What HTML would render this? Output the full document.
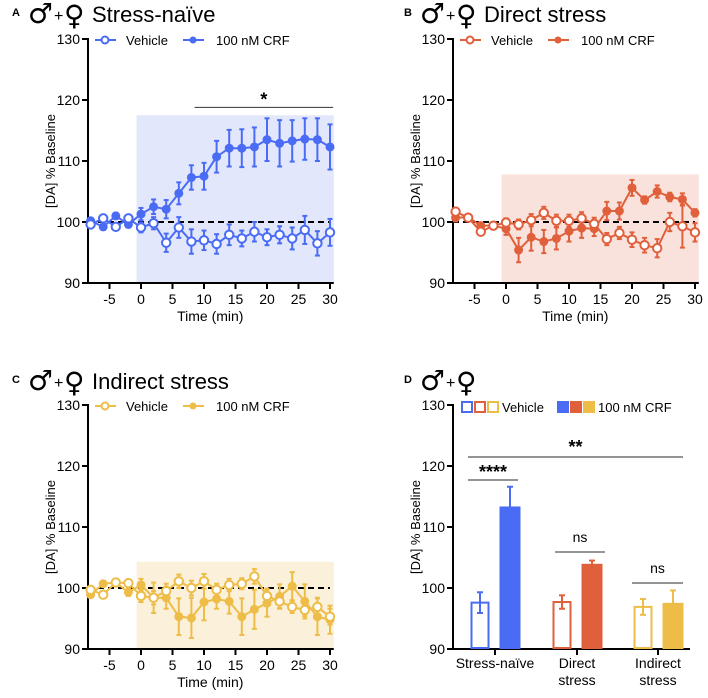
<!DOCTYPE html>
<html><head><meta charset="utf-8">
<style>
html,body{margin:0;padding:0;background:#fff;}
svg{display:block;font-family:"Liberation Sans",Arial,sans-serif;}
</style></head>
<body>
<svg id="fig" width="708" height="698" viewBox="0 0 708 698" xmlns="http://www.w3.org/2000/svg"></svg>
<script>
const times = [-8,-6,-4,-2,0,2,4,6,8,10,12,14,16,18,20,22,24,26,28,30];
const aCrf = [100.2,99.2,101,99.6,101.3,102.5,102.1,104.7,107.3,107.5,110.7,112.1,112.1,112.3,113.5,112.9,113.3,113.6,113.5,112.3];
const aCrfErr = [0.4,0.5,0.5,0.5,1,1.2,1.5,1.8,2,2.2,2.6,3,3.1,3.2,3.5,3.8,3.4,3.4,3.5,3.7];
const aVeh = [99.6,100.6,99.2,100.6,99.1,99.8,96.6,99.1,96.8,97.0,96.4,97.9,97.3,98.4,97.5,97.9,97.3,98.7,96.5,98.3];
const aVehErr = [0.5,0.5,0.5,0.5,0.8,1,1.5,1.7,2,1.6,1.6,1.7,1.3,1.6,1.3,1.4,1.8,2.3,2,2.2];
const bCrf = [100.7,100.8,99.4,99.4,98.9,95.4,97.5,96.8,97.3,98.5,99,98.9,101.8,101.8,105.6,103.6,105,104.1,103.7,101.5];
const bCrfErr = [0.6,0.5,0.5,0.4,1,2,2.2,1.9,1.8,1.7,1.6,1.2,1.5,1.4,1.3,0.6,1,0.7,1,0.6];
const bVeh = [101.7,100.7,98.4,99.4,99.9,99.6,100.3,101.5,100.2,100.2,100.6,99.7,97.2,98.2,97.1,96.2,95.7,100,99.3,98.3];
const bVehErr = [0.5,0.5,0.5,0.4,0.7,0.8,1,1,1,1,1,1,1,1,1.2,1.2,1.5,1.5,3.5,1.5];
const cCrf = [98.9,100.7,100.9,99.3,100.5,98.4,98.4,95.3,95.1,97.7,98.2,97.8,95.3,96.5,97.5,98.6,100.3,97.8,95.3,94.8];
const cCrfErr = [0.4,0.4,0.4,0.6,1,2.5,1.8,3,3.3,3,1.6,2,3,3.2,2.2,2,2.3,2.8,3,2.3];
const cVeh = [99.7,98.9,100.9,100.8,98.7,98.4,99.5,101.1,100,101.1,99.7,100.5,100.7,101.9,98.7,97.8,96.9,96.4,96.9,95.3];
const cVehErr = [0.5,0.5,0.5,0.5,1,1.1,1.2,1.1,1.2,1.2,1,1,0.9,1.2,1.2,1.1,1,1,1.5,1.3];
const yTicks = [90,100,110,120,130];
const xTicks = [-5,0,5,10,15,20,25,30];
const groups = ["Stress-naïve","Direct stress","Indirect stress"];
const dVeh = [97.6,97.7,96.9];
const dVehErr = [1.7,1.1,1.3];
const dCrf = [113.2,103.8,97.4];
const dCrfErr = [3.4,0.7,2.2];

const NS="http://www.w3.org/2000/svg";
const svg=document.getElementById('fig');
function el(tag,attrs,parent,text){const e=document.createElementNS(NS,tag);for(const k in attrs)e.setAttribute(k,attrs[k]);if(text!==undefined)e.textContent=text;(parent||svg).appendChild(e);return e;}

function header(x,y,letter,title,name){
  const g=el('g',{});
  
  
  el('text',{x:x-16,y:y-6,'font-size':11,'font-weight':'bold'},g,letter);
  el('text',{x:x,y:y+1,'font-size':28,'font-family':'DejaVu Sans, sans-serif'},g,'♂');
  el('text',{x:x+26,y:y-1,'font-size':16},g,'+');
  el('text',{x:x+36,y:y+3,'font-size':28,'font-family':'DejaVu Sans, sans-serif'},g,'♀');
  el('text',{x:x+64,y:y,'font-size':22},g,title);
}

function linePanel(opt){
  const {x0,y0,name,color,shade,shadeTop,crf,crfErr,veh,vehErr}=opt;
  const X=t=>x0+53+(t)*6.3;
  const Y=v=>y0-(v-90)*6.1;
  const g=el('g',{});
  
  
  const sh=el('rect',{x:X(-0.7),y:Y(shadeTop),width:X(30.6)-X(-0.7),height:Y(90)-Y(shadeTop),fill:shade},g);
  
  
  const ya=el('line',{x1:x0,y1:Y(130)-1,x2:x0,y2:Y(90),stroke:'#000','stroke-width':2},g);
  
  
  const xa=el('line',{x1:x0-1,y1:Y(90),x2:X(30.6),y2:Y(90),stroke:'#000','stroke-width':2},g);
  
  
  yTicks.forEach(v=>{
    el('line',{x1:x0-6,y1:Y(v),x2:x0,y2:Y(v),stroke:'#000','stroke-width':2},g);
    const t=el('text',{x:x0-8,y:Y(v)+5,'font-size':14,'text-anchor':'end'},g,v);
    
    
  });
  xTicks.forEach(v=>{
    el('line',{x1:X(v),y1:Y(90),x2:X(v),y2:Y(90)+6,stroke:'#000','stroke-width':2},g);
    const t=el('text',{x:X(v),y:Y(90)+21,'font-size':14,'text-anchor':'middle'},g,v);
    
    
  });
  const yl=el('text',{x:0,y:0,'font-size':13,'text-anchor':'middle',transform:`translate(${x0-33},${Y(110)}) rotate(-90)`},g,'[DA] % Baseline');
  
  
  const xl=el('text',{x:X(11),y:Y(90)+38,'font-size':14,'text-anchor':'middle'},g,'Time (min)');
  
  
  const bl=el('line',{x1:x0,y1:Y(100),x2:X(30),y2:Y(100),stroke:'#000','stroke-width':2,'stroke-dasharray':'6,4'},g);
  
  
  function series(vals,errs,filled,sname){
    const sg=el('g',{},g);
    
    
    vals.forEach((v,i)=>{
      const x=X(times[i]);
      el('line',{x1:x,y1:Y(v-errs[i]),x2:x,y2:Y(v+errs[i]),stroke:color,'stroke-width':2},sg);
      el('line',{x1:x-2.5,y1:Y(v-errs[i]),x2:x+2.5,y2:Y(v-errs[i]),stroke:color,'stroke-width':2},sg);
      el('line',{x1:x-2.5,y1:Y(v+errs[i]),x2:x+2.5,y2:Y(v+errs[i]),stroke:color,'stroke-width':2},sg);
    });
    el('polyline',{points:vals.map((v,i)=>X(times[i])+','+Y(v)).join(' '),fill:'none',stroke:color,'stroke-width':2},sg);
    vals.forEach((v,i)=>{
      const c=el('circle',{cx:X(times[i]),cy:Y(v),r:filled?4:4.2,fill:filled?color:'#fff',stroke:color,'stroke-width':filled?1:2},sg);
      
      
    });
  }
  series(crf,crfErr,true,'crf-series');
  series(veh,vehErr,false,'vehicle-series');
  const lg=el('g',{},g);
  
  
  const ly=Y(130)+1;
  el('line',{x1:x0+7,y1:ly,x2:x0+28,y2:ly,stroke:color,'stroke-width':2},lg);
  el('circle',{cx:x0+17,cy:ly,r:3.5,fill:'#fff',stroke:color,'stroke-width':2},lg);
  el('text',{x:x0+38,y:ly+5,'font-size':13},lg,'Vehicle');
  el('line',{x1:x0+95,y1:ly,x2:x0+116,y2:ly,stroke:color,'stroke-width':2},lg);
  el('circle',{cx:x0+105,cy:ly,r:3.5,fill:color},lg);
  el('text',{x:x0+128,y:ly+5,'font-size':13},lg,'100 nM CRF');
  return {X,Y,g};
}

header(28,22,'A','Stress-naïve','panel-a');
const pa=linePanel({x0:88,y0:283,name:'panel-a-chart',color:'#4a6cf4',shade:'#e2e7fc',shadeTop:117.5,crf:aCrf,crfErr:aCrfErr,veh:aVeh,vehErr:aVehErr});
const sigA=el('line',{x1:pa.X(8.5),y1:pa.Y(118.8),x2:pa.X(30.5),y2:pa.Y(118.8),stroke:'#333','stroke-width':1},pa.g);


const stA=el('text',{x:pa.X(19.5),y:pa.Y(118.8)-2,'font-size':18,'font-weight':'bold','text-anchor':'middle'},pa.g,'*');



header(420,22,'B','Direct stress','panel-b');
linePanel({x0:453,y0:283,name:'panel-b-chart',color:'#e0603c',shade:'#f9e2dc',shadeTop:107.8,crf:bCrf,crfErr:bCrfErr,veh:bVeh,vehErr:bVehErr});

header(28,389,'C','Indirect stress','panel-c');
linePanel({x0:88,y0:649,name:'panel-c-chart',color:'#eebd48',shade:'#fbf0da',shadeTop:104.3,crf:cCrf,crfErr:cCrfErr,veh:cVeh,vehErr:cVehErr});

header(420,389,'D','','panel-d');
(function(){
  const colors=['#4a6cf4','#e0603c','#eebd48'];
  const x0=453,y0=649;
  const Y=v=>y0-(v-90)*6.1;
  const centers=[495,577,658];
  const g=el('g',{});
  
  
  const ya=el('line',{x1:x0,y1:Y(130)-1,x2:x0,y2:y0,stroke:'#000','stroke-width':2},g);
  
  
  const xa=el('line',{x1:x0-1,y1:y0,x2:690,y2:y0,stroke:'#000','stroke-width':2},g);
  
  
  yTicks.forEach(v=>{
    el('line',{x1:x0-6,y1:Y(v),x2:x0,y2:Y(v),stroke:'#000','stroke-width':2},g);
    const t=el('text',{x:x0-8,y:Y(v)+5,'font-size':14,'text-anchor':'end'},g,v);
    
    
  });
  const yl=el('text',{x:0,y:0,'font-size':13,'text-anchor':'middle',transform:`translate(${x0-33},${Y(110)}) rotate(-90)`},g,'[DA] % Baseline');
  
  
  groups.forEach((name,i)=>{
    const c=centers[i];
    el('line',{x1:c,y1:y0,x2:c,y2:y0+6,stroke:'#000','stroke-width':2},g);
    const parts=name==='Stress-naïve'?[name]:name.split(' ');
    parts.forEach((p,j)=>{
      const t=el('text',{x:c,y:y0+19+j*17,'font-size':14,'text-anchor':'middle'},g,p);
      
      
    });
    const bw=19;
    [[dVeh,dVehErr,c-15,false],[dCrf,dCrfErr,c+15,true]].forEach(([vals,errs,bx,filled])=>{
      const v=vals[i],e=errs[i];
      el('line',{x1:bx,y1:Y(v),x2:bx,y2:Y(v+e),stroke:colors[i],'stroke-width':2},g);
      el('line',{x1:bx-3,y1:Y(v+e),x2:bx+3,y2:Y(v+e),stroke:colors[i],'stroke-width':2},g);
      if(!filled){el('line',{x1:bx,y1:Y(v),x2:bx,y2:Y(v-e),stroke:colors[i],'stroke-width':2},g);
        el('line',{x1:bx-3,y1:Y(v-e),x2:bx+3,y2:Y(v-e),stroke:colors[i],'stroke-width':2},g);}
      const r=el('rect',{x:bx-bw/2+(filled?0:1),y:Y(v),width:bw-(filled?0:2),height:y0-Y(v)-1,fill:filled?colors[i]:'none',stroke:colors[i],'stroke-width':2},g);
      
      
    });
  });
  function ann(x1,x2,y,txt,ty,fs){
    const l=el('line',{x1:x1,y1:y,x2:x2,y2:y,stroke:'#555','stroke-width':1.2},g);
    
    
    const t=el('text',{x:(x1+x2)/2,y:ty,'font-size':fs,'text-anchor':'middle','font-weight':txt==='ns'?'normal':'bold'},g,txt);
    
    
  }
  ann(468,683,457,'**',453,18);
  ann(468,518,480,'****',478,18);
  ann(555,605,552,'ns',542,14);
  ann(632,683,583,'ns',573,14);
  const lg=el('g',{},g);
  
  
  colors.forEach((c,i)=>{
    el('rect',{x:462+i*13,y:402,width:10,height:10,fill:'none',stroke:c,'stroke-width':2},lg);
    el('rect',{x:557+i*13,y:401,width:12,height:12,fill:c},lg);
  });
  el('text',{x:502,y:412,'font-size':13},lg,'Vehicle');
  el('text',{x:598,y:412,'font-size':13},lg,'100 nM CRF');
})();
</script>
</body></html>
